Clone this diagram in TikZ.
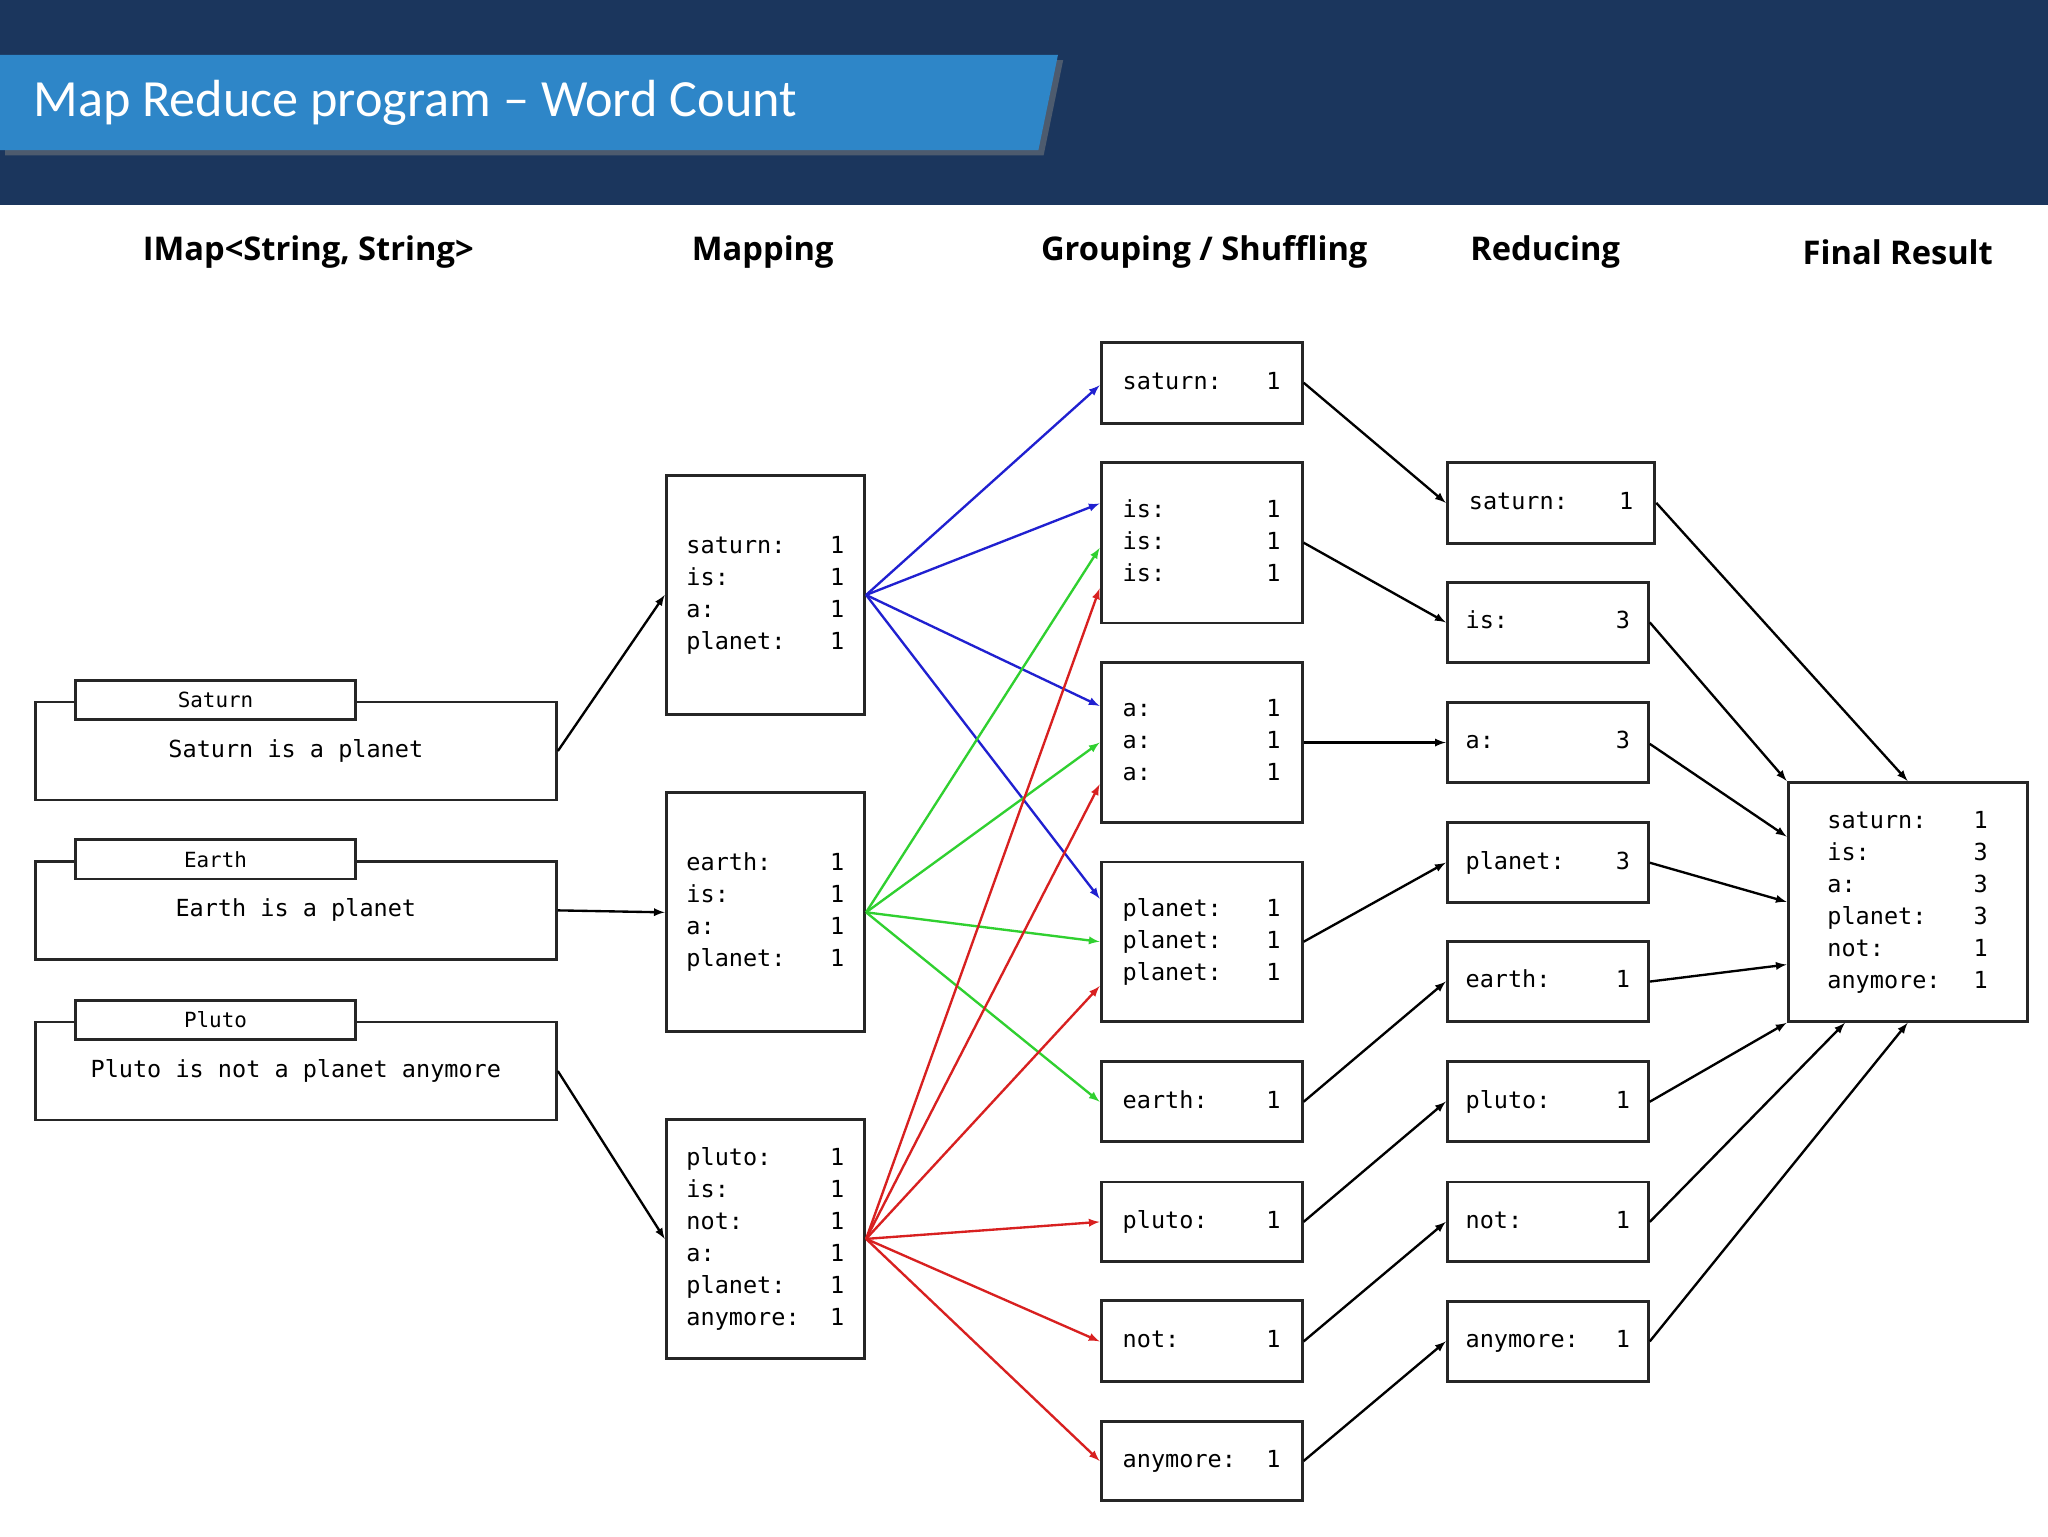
\documentclass[tikz,border=0pt]{standalone}
\usepackage{fontspec}
\setmonofont{DejaVu Sans Mono}
\newfontfamily\ttl{Carlito}
\newfontfamily\hdf{Open Sans}
\usetikzlibrary{calc}
\definecolor{navy}{HTML}{1B365D}
\definecolor{ban}{HTML}{2E86C8}
\definecolor{cb}{HTML}{2020D0}
\definecolor{cg}{HTML}{30D030}
\definecolor{cr}{HTML}{D82020}
\newcommand{\kvt}[2]{{\ttfamily\fontsize{18}{24.5}\selectfont\begin{tabular}{@{}p{#1}@{}r@{}}#2\end{tabular}}}
\tikzset{
 x=1pt,y=-1pt,
 box/.style={draw=black!85,line width=2.2pt,inner sep=0pt,fill=white},
 lbl/.style={draw=black!85,line width=2.2pt,inner sep=0pt,fill=white,font=\ttfamily\fontsize{16}{16}\selectfont},
 hd/.style={font=\hdf\bfseries\fontsize{25}{25}\selectfont},
 arr/.style={-latex,line width=1.8pt},
}
\begin{document}
\begin{tikzpicture}
\useasboundingbox (0,0) rectangle (1568,1176);
\fill[white] (0,0) rectangle (1568,1176);
\fill[navy] (0,0) rectangle (1568,157);
\fill[black!50,opacity=0.5] (4,46) -- (814,46) -- (799,119) -- (4,119) -- cycle;
\fill[ban] (0,42) -- (810,42) -- (795,115) -- (0,115) -- cycle;
\node[anchor=west,text=white,font=\ttl\fontsize{40}{40}\selectfont] (title) at (22,79) {Map Reduce program – Word Count};
\node[hd] (h1) at (236,193) {IMap<String, String>};
\node[hd] (h2) at (584,193) {Mapping};
\node[hd] (h3) at (922,193) {Grouping / Shuffling};
\node[hd] (h4) at (1183,193) {Reducing};
\node[hd] (h5) at (1453,193) {Final Result};
% inputs
\foreach \n/\t/\l/\y in {i1/Saturn is a planet/Saturn/575, i2/Earth is a planet/Earth/697, i3/Pluto is not a planet anymore/Pluto/820}{
 \node[box,minimum width=399,minimum height=75,font=\ttfamily\fontsize{18}{18}\selectfont] (\n) at (226.5,\y) {\t};
 \node[lbl,minimum width=214,minimum height=30] (\n l) at (165,\y-39) {\l};
}
% mapping
\node[box,minimum width=152,minimum height=183] (m1) at (586,455.5) {\kvt{110pt}{saturn:&1\\is:&1\\a:&1\\planet:&1}};
\node[box,minimum width=152,minimum height=183] (m2) at (586,698.5) {\kvt{110pt}{earth:&1\\is:&1\\a:&1\\planet:&1}};
\node[box,minimum width=152,minimum height=183] (m3) at (586,948.5) {\kvt{110pt}{pluto:&1\\is:&1\\not:&1\\a:&1\\planet:&1\\anymore:&1}};
% grouping
\newcommand{\gb}[4]{\node[box,minimum width=154,minimum height=#3] (#1) at (920,#2) {\kvt{110pt}{#4}};}
\gb{g1}{293}{62}{saturn:&1}
\gb{g2}{415.5}{123}{is:&1\\is:&1\\is:&1}
\gb{g3}{568.5}{123}{a:&1\\a:&1\\a:&1}
\gb{g4}{721}{122}{planet:&1\\planet:&1\\planet:&1}
\gb{g5}{843.5}{61}{earth:&1}
\gb{g6}{935.5}{61}{pluto:&1}
\gb{g7}{1027}{62}{not:&1}
\gb{g8}{1118.5}{61}{anymore:&1}
% reducing
\newcommand{\rb}[3]{\node[box,minimum width=154,minimum height=61] (#1) at (1185,#2) {\kvt{115pt}{#3}};}
\node[box,minimum width=159,minimum height=62] (r1) at (1187.5,385) {\kvt{115pt}{saturn:&1}};
\rb{r2}{476.5}{is:&3}
\rb{r3}{568.5}{a:&3}
\rb{r4}{660.5}{planet:&3}
\rb{r5}{751.5}{earth:&1}
\rb{r6}{843.5}{pluto:&1}
\rb{r7}{935.5}{not:&1}
\rb{r8}{1027}{anymore:&1}
% final
\node[box,minimum width=183,minimum height=183] (f) at (1460.5,690.5) {\kvt{112pt}{saturn:&1\\is:&3\\a:&3\\planet:&3\\not:&1\\anymore:&1}};
% input -> mapping
\draw[arr] (i1.east) -- (m1.west);
\draw[arr] (i2.east) -- (m2.west);
\draw[arr] (i3.east) -- (m3.west);
% mapping -> grouping
\draw[arr,cb] (m1.east) -- ([yshift=-2]g1.west);
\draw[arr,cb] (m1.east) -- ([yshift=30]g2.west);
\draw[arr,cb] (m1.east) -- ([yshift=28]g3.west);
\draw[arr,cb] (m1.east) -- ([yshift=33]g4.west);
\draw[arr,cg] (m2.east) -- ([yshift=-4]g2.west);
\draw[arr,cg] (m2.east) -- (g3.west);
\draw[arr,cg] (m2.east) -- (g4.west);
\draw[arr,cg] (m2.east) -- (g5.west);
\draw[arr,cr] (m3.east) -- ([yshift=-35]g2.west);
\draw[arr,cr] (m3.east) -- ([yshift=-32]g3.west);
\draw[arr,cr] (m3.east) -- ([yshift=-34]g4.west);
\draw[arr,cr] (m3.east) -- (g6.west);
\draw[arr,cr] (m3.east) -- (g7.west);
\draw[arr,cr] (m3.east) -- (g8.west);
% grouping -> reducing
\foreach \a/\b in {g1/r1,g2/r2,g3/r3,g4/r4,g5/r5,g6/r6,g7/r7,g8/r8}{\draw[arr] (\a.east) -- (\b.west);}
% reducing -> final
\draw[arr] (r1.east) -- (f.north);
\draw[arr] (r2.east) -- (f.north west);
\draw[arr] ([yshift=-1]r3.east) -- ([yshift=50]f.west);
\draw[arr] (r4.east) -- (f.west);
\draw[arr] (r5.east) -- ([yshift=-48]f.west);
\draw[arr] (r6.east) -- (f.south west);
\draw[arr] (r7.east) -- ([xshift=-48]f.south);
\draw[arr] (r8.east) -- (f.south);
\end{tikzpicture}
\end{document}
